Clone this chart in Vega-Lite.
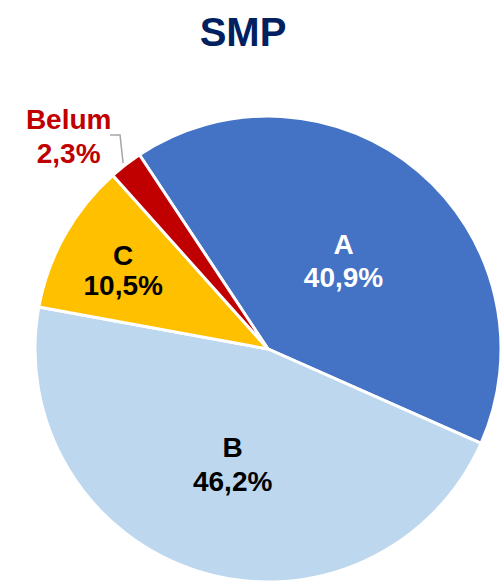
{
  "$schema": "https://vega.github.io/schema/vega-lite/v6.json",
  "width": 466,
  "height": 466,
  "autosize": "none",
  "padding": {"left": 35, "top": 116, "right": 0, "bottom": 4},
  "background": "white",
  "title": {
    "text": "SMP",
    "font": "Liberation Sans",
    "fontSize": 40,
    "fontWeight": "bold",
    "color": "#002060",
    "anchor": "middle",
    "dx": -25,
    "offset": 53
  },
  "config": {"view": {"stroke": null}},
  "datasets": {
    "slices": [
      {"cat": "A", "value": 40.9, "pct": "40,9%", "ord": 1},
      {"cat": "B", "value": 46.2, "pct": "46,2%", "ord": 2},
      {"cat": "C", "value": 10.5, "pct": "10,5%", "ord": 3},
      {"cat": "Belum", "value": 2.3, "pct": "2,3%", "ord": 4}
    ],
    "leader": [
      {"i": 1, "x": -0.678, "y": 0.918},
      {"i": 2, "x": -0.635, "y": 0.918},
      {"i": 3, "x": -0.622, "y": 0.798}
    ]
  },
  "layer": [
    {
      "data": {"name": "slices"},
      "mark": {"type": "arc", "radius": 233, "stroke": "white", "strokeWidth": 3},
      "encoding": {
        "theta": {"field": "value", "type": "quantitative", "stack": true, "scale": {"range": [-0.5847, 5.6985]}},
        "order": {"field": "ord", "type": "quantitative"},
        "color": {
          "field": "cat", "type": "nominal", "legend": null,
          "scale": {"domain": ["A", "B", "C", "Belum"], "range": ["#4472C4", "#BDD7EE", "#FFC000", "#C00000"]}
        }
      }
    },
    {
      "data": {"name": "slices"},
      "transform": [{"calculate": "datum.cat + '\\n' + datum.pct", "as": "lbl"}],
      "mark": {"type": "text", "radius": 117, "dy": -14, "font": "Liberation Sans", "fontSize": 28, "fontWeight": "bold", "lineBreak": "\n", "lineHeight": 33, "baseline": "middle", "align": "center", "fill": "white"},
      "encoding": {
        "theta": {"field": "value", "type": "quantitative", "stack": true, "scale": {"range": [-0.5847, 5.6985]}},
        "order": {"field": "ord", "type": "quantitative"},
        "text": {"condition": {"test": "datum.cat === 'A'", "field": "lbl"}, "value": ""}
      }
    },
    {
      "data": {"name": "slices"},
      "transform": [{"calculate": "datum.cat + '\\n' + datum.pct", "as": "lbl"}],
      "mark": {"type": "text", "radius": 120, "dy": -15, "font": "Liberation Sans", "fontSize": 28, "fontWeight": "bold", "lineBreak": "\n", "lineHeight": 34, "baseline": "middle", "align": "center", "fill": "black"},
      "encoding": {
        "theta": {"field": "value", "type": "quantitative", "stack": true, "scale": {"range": [-0.5847, 5.6985]}},
        "order": {"field": "ord", "type": "quantitative"},
        "text": {"condition": {"test": "datum.cat === 'B'", "field": "lbl"}, "value": ""}
      }
    },
    {
      "data": {"name": "slices"},
      "transform": [{"calculate": "datum.cat + '\\n' + datum.pct", "as": "lbl"}],
      "mark": {"type": "text", "radius": 166, "dy": -11, "font": "Liberation Sans", "fontSize": 28, "fontWeight": "bold", "lineBreak": "\n", "lineHeight": 30, "baseline": "middle", "align": "center", "fill": "black"},
      "encoding": {
        "theta": {"field": "value", "type": "quantitative", "stack": true, "scale": {"range": [-0.5847, 5.6985]}},
        "order": {"field": "ord", "type": "quantitative"},
        "text": {"condition": {"test": "datum.cat === 'C'", "field": "lbl"}, "value": ""}
      }
    },
    {
      "data": {"name": "slices"},
      "transform": [{"calculate": "datum.cat + '\\n' + datum.pct", "as": "lbl"}],
      "mark": {"type": "text", "radius": 292, "dx": -21, "dy": 3, "font": "Liberation Sans", "fontSize": 28, "fontWeight": "bold", "lineBreak": "\n", "lineHeight": 34, "baseline": "middle", "align": "center", "fill": "#C00000"},
      "encoding": {
        "theta": {"field": "value", "type": "quantitative", "stack": true, "scale": {"range": [-0.5847, 5.6985]}},
        "order": {"field": "ord", "type": "quantitative"},
        "text": {"condition": {"test": "datum.cat === 'Belum'", "field": "lbl"}, "value": ""}
      }
    },
    {
      "data": {"name": "leader"},
      "mark": {"type": "line", "stroke": "#A6A6A6", "strokeWidth": 1.5},
      "encoding": {
        "x": {"field": "x", "type": "quantitative", "scale": {"domain": [-1, 1]}, "axis": null},
        "y": {"field": "y", "type": "quantitative", "scale": {"domain": [-1, 1]}, "axis": null},
        "order": {"field": "i", "type": "quantitative"}
      }
    }
  ]
}
